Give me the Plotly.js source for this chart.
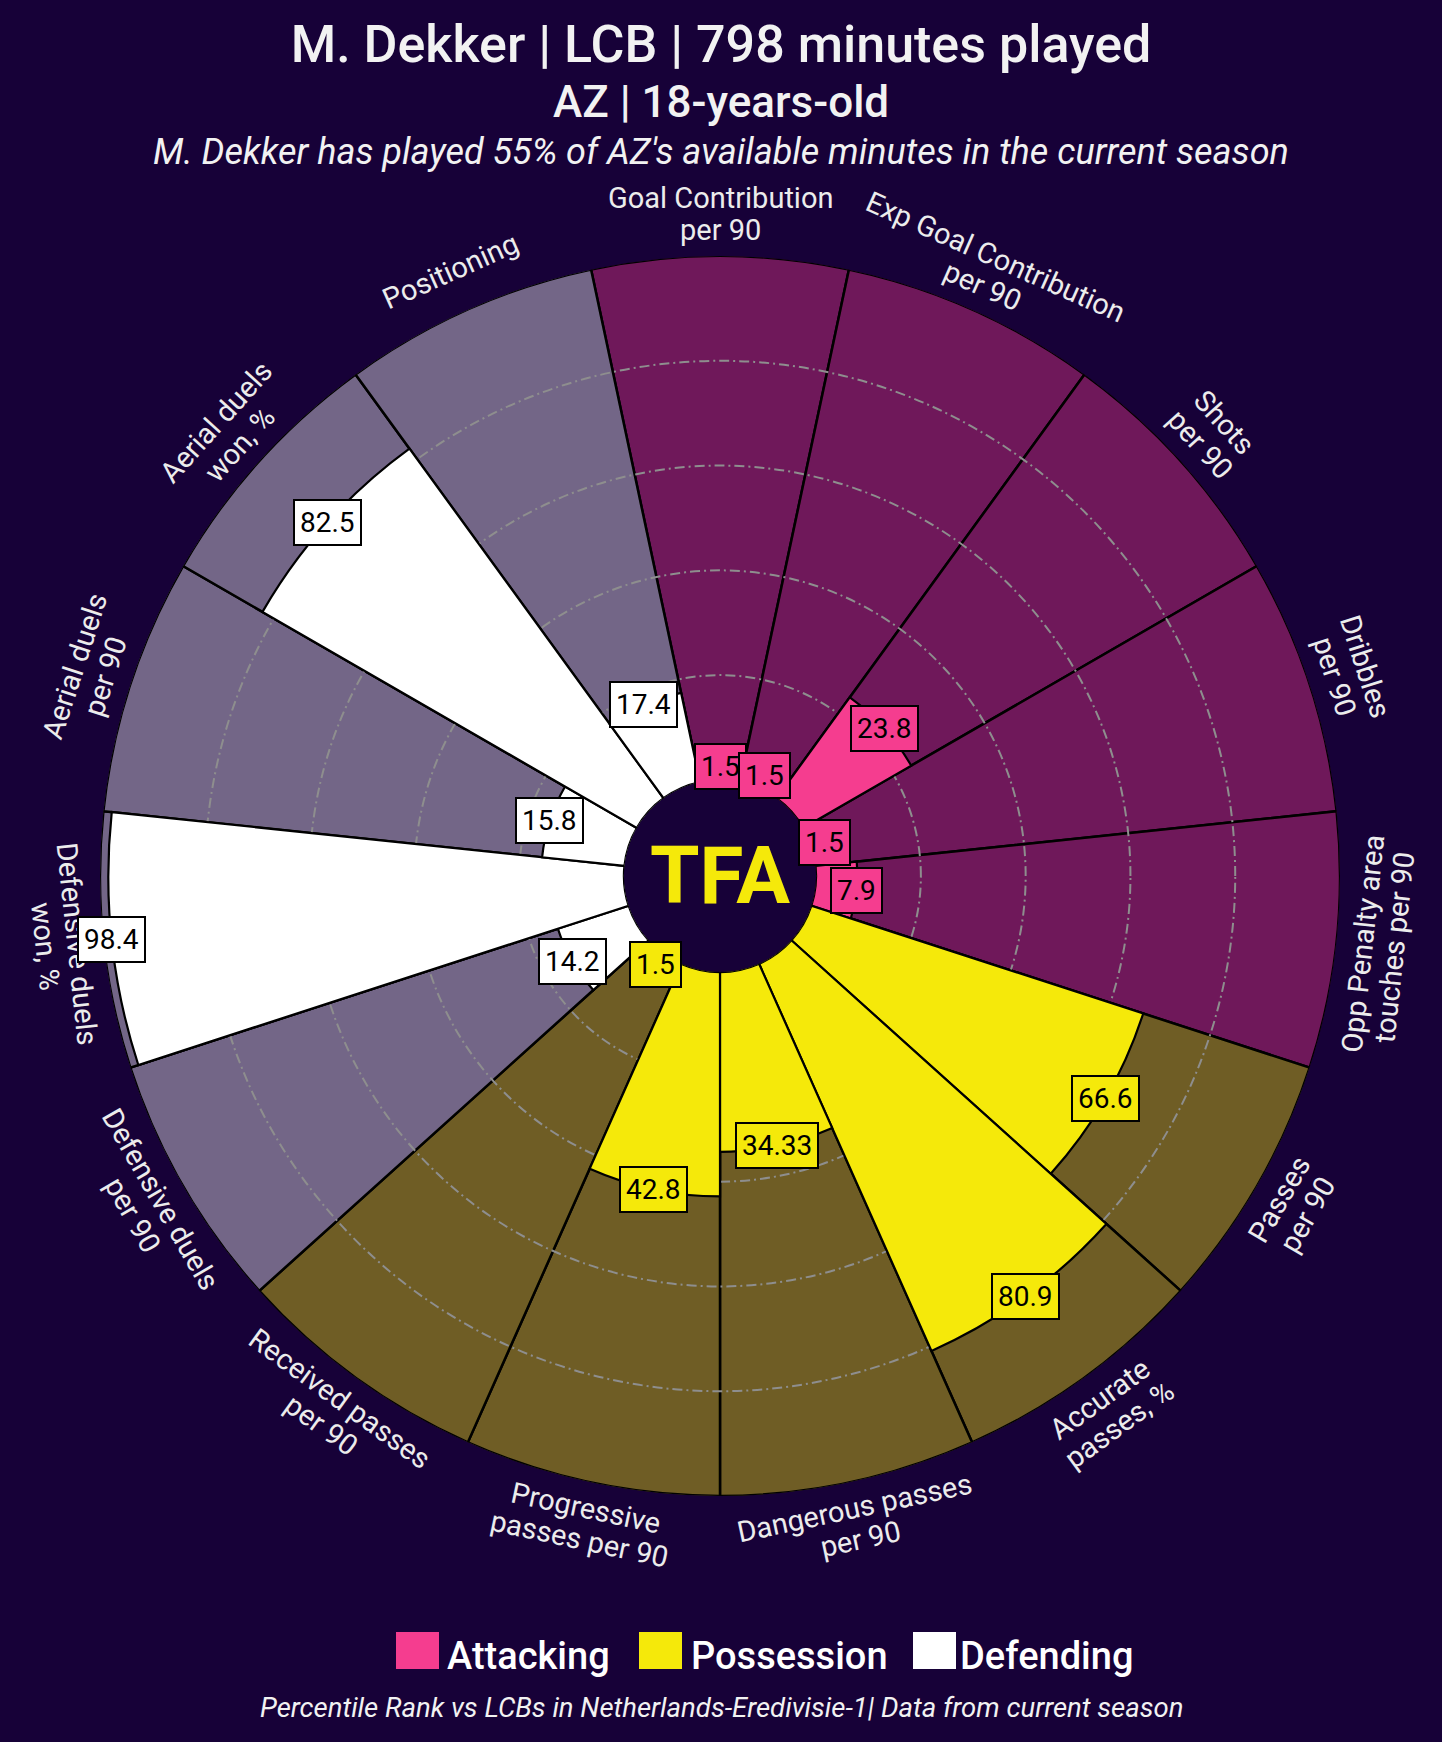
<!DOCTYPE html>
<html>
<head>
<meta charset="utf-8">
<script src="https://cdn.plot.ly/plotly-3.0.1.min.js"></script>
<style>
html,body{margin:0;padding:0;background:#170138;}
#chart{width:1442px;height:1742px;}
</style>
</head>
<body>
<div id="chart"></div>
<script>
// ---------------- DATA ----------------
const metrics = [
  "Goal Contribution per 90", "Exp Goal Contribution per 90", "Shots per 90", "Dribbles per 90",
  "Opp Penalty area touches per 90", "Passes per 90", "Accurate passes, %", "Dangerous passes per 90",
  "Progressive passes per 90", "Received passes per 90", "Defensive duels per 90", "Defensive duels won, %",
  "Aerial duels per 90", "Aerial duels won, %", "Positioning"
];
const labelLines = [
  ["Goal Contribution", "per 90"], ["Exp Goal Contribution", "per 90"], ["Shots", "per 90"], ["Dribbles", "per 90"],
  ["Opp Penalty area", "touches per 90"], ["Passes", "per 90"], ["Accurate", "passes, %"], ["Dangerous passes", "per 90"],
  ["Progressive", "passes per 90"], ["Received passes", "per 90"], ["Defensive duels", "per 90"], ["Defensive duels", "won, %"],
  ["Aerial duels", "per 90"], ["Aerial duels", "won, %"], ["Positioning"]
];
const percentiles = [1.5, 1.5, 23.8, 1.5, 7.9, 66.6, 80.9, 34.33, 42.8, 1.5, 14.2, 98.4, 15.8, 82.5, 17.4];
const groups = [
  "Attacking", "Attacking", "Attacking", "Attacking", "Attacking",
  "Possession", "Possession", "Possession", "Possession", "Possession",
  "Defending", "Defending", "Defending", "Defending", "Defending"
];
const groupNames = ["Attacking", "Possession", "Defending"];
const gridValues = [20, 40, 60, 80];
const titleText = "M. Dekker | LCB | 798 minutes played";
const subtitleText = "AZ | 18-years-old";
const noteText = "M. Dekker has played 55% of AZ's available minutes in the current season";
const footerText = "Percentile Rank vs LCBs in Netherlands-Eredivisie-1| Data from current season";

// ---------------- STYLE ----------------
const groupColor = {Attacking: "#f53d8f", Possession: "#f5e90a", Defending: "#ffffff"};
const groupBg = {Attacking: "rgba(245,61,143,0.4)", Possession: "rgba(245,233,10,0.4)", Defending: "rgba(255,255,255,0.4)"};
const PAPER = "#170138";
const W = 1442, H = 1742;
const CX = 720, CY = 876, R = 620, HOLE = 0.155;
const FONT = "Roboto";

const n = metrics.length;
const fg = groups.map(g => groupColor[g]);
const bg = groups.map(g => groupBg[g]);
const full = metrics.map(() => 100);

const domain = {
  x: [(CX - R) / W, (CX + R) / W],
  y: [1 - (CY + R) / H, 1 - (CY - R) / H]
};

const angAxisHidden = {
  type: "category", rotation: 90, direction: "clockwise",
  showgrid: false, showline: false, showticklabels: false, ticks: ""
};

const traces = [
  {
    type: "barpolar", subplot: "polar", r: full, theta: metrics,
    marker: {color: bg, line: {color: "#000000", width: 2.5}},
    hoverinfo: "skip", showlegend: false
  },
  {
    type: "barpolar", subplot: "polar2", r: percentiles, theta: metrics,
    marker: {color: fg, line: {color: "#000000", width: 2.2}},
    hovertemplate: "%{theta}: %{r}<extra></extra>", showlegend: false
  }
];

// angle (deg, clockwise from top) of category i through the angular scale
function angleOf(i) { return i * 360 / n; }
function radiusPx(v) { return R * HOLE + (v / 100) * R * (1 - HOLE); }
function toPaper(px, py) { return {x: px / W, y: 1 - py / H}; }

const annotations = [];

// category labels, rotated tangentially
const LABEL_R = 662, LINE_SP = 32;
labelLines.forEach((lines, i) => {
  const a = angleOf(i);
  const rad = a * Math.PI / 180;
  let ta = (a <= 90) ? a : (a >= 270 ? a - 360 : a - 180);
  const tr = ta * Math.PI / 180;
  const cx = CX + LABEL_R * Math.sin(rad);
  const cy = CY - LABEL_R * Math.cos(rad);
  const m = lines.length;
  lines.forEach((txt, j) => {
    const d = (j - (m - 1) / 2) * LINE_SP;
    const px = cx + d * (-Math.sin(tr));
    const py = cy + d * Math.cos(tr);
    const p = toPaper(px, py);
    annotations.push({
      xref: "paper", yref: "paper", x: p.x, y: p.y, xanchor: "center", yanchor: "middle",
      text: txt, textangle: ta, showarrow: false,
      font: {family: FONT, size: 29, color: "#ececec"}
    });
  });
});

// value labels at the bar tips (small values nudged just outside the hole edge)
percentiles.forEach((v, i) => {
  const rad = angleOf(i) * Math.PI / 180;
  const rp = Math.max(radiusPx(v), 110);
  const p = toPaper(CX + rp * Math.sin(rad), CY - rp * Math.cos(rad));
  annotations.push({
    xref: "paper", yref: "paper", x: p.x, y: p.y, xanchor: "center", yanchor: "middle",
    text: String(v), showarrow: false,
    font: {family: FONT, size: 28, color: "#000000"},
    bgcolor: fg[i], bordercolor: "#000000", borderwidth: 2, borderpad: 5
  });
});

// centre logo
annotations.push({
  xref: "paper", yref: "paper", x: CX / W, y: 1 - CY / H, xanchor: "center", yanchor: "middle",
  text: "<b>TFA</b>", showarrow: false,
  font: {family: FONT, size: 80, color: "#f5e90a", weight: 900}
});

// subtitle lines
annotations.push({
  xref: "paper", yref: "paper", x: 0.5, y: 1 - 102 / H, xanchor: "center", yanchor: "middle",
  text: subtitleText, showarrow: false,
  font: {family: FONT, size: 44, color: "#f2f2f2", weight: 500}
});
annotations.push({
  xref: "paper", yref: "paper", x: 0.5, y: 1 - 152 / H, xanchor: "center", yanchor: "middle",
  text: "<i>" + noteText + "</i>", showarrow: false,
  font: {family: FONT, size: 36, color: "#f2f2f2"}
});
// footer
annotations.push({
  xref: "paper", yref: "paper", x: 0.5, y: 1 - 1707 / H, xanchor: "center", yanchor: "middle",
  text: "<i>" + footerText + "</i>", showarrow: false,
  font: {family: FONT, size: 27.5, color: "#f2f2f2"}
});

// custom legend
const legendItems = [
  {name: groupNames[0], sq: [396, 439], tx: 445},
  {name: groupNames[1], sq: [639, 682], tx: 689},
  {name: groupNames[2], sq: [913, 956], tx: 958}
];
const shapes = [];
legendItems.forEach(it => {
  shapes.push({
    type: "rect", xref: "paper", yref: "paper",
    x0: it.sq[0] / W, x1: it.sq[1] / W, y0: 1 - 1669 / H, y1: 1 - 1632 / H,
    fillcolor: groupColor[it.name], line: {width: 0}
  });
  annotations.push({
    xref: "paper", yref: "paper", x: it.tx / W, y: 1 - 1656 / H, xanchor: "left", yanchor: "middle",
    text: it.name, showarrow: false,
    font: {family: FONT, size: 38, color: "#ffffff", weight: 500}
  });
});

const layout = {
  width: W, height: H,
  paper_bgcolor: PAPER, plot_bgcolor: PAPER,
  margin: {l: 0, r: 0, t: 0, b: 0},
  showlegend: false,
  title: {
    text: titleText, x: 0.5, xanchor: "center", xref: "paper",
    y: 1 - 44 / H, yanchor: "middle", yref: "container",
    font: {family: FONT, size: 52, color: "#f2f2f2", weight: 500}
  },
  polar: {
    domain: domain, hole: HOLE, bgcolor: "rgba(0,0,0,0)", bargap: 0,
    radialaxis: {range: [0, 100], visible: false, showgrid: false},
    angularaxis: angAxisHidden
  },
  polar2: {
    domain: domain, hole: HOLE, bgcolor: "rgba(0,0,0,0)", bargap: 0,
    radialaxis: {
      range: [0, 100], tickmode: "array", tickvals: gridValues,
      showgrid: true, gridcolor: "#8e8e8e", gridwidth: 2, griddash: "10px,4px,2px,4px",
      showline: false, showticklabels: false, ticks: ""
    },
    angularaxis: angAxisHidden
  },
  annotations: annotations,
  shapes: shapes,
  font: {family: FONT, color: "#f2f2f2"}
};

Plotly.newPlot("chart", traces, layout, {displayModeBar: false, staticPlot: true});
</script>
</body>
</html>
